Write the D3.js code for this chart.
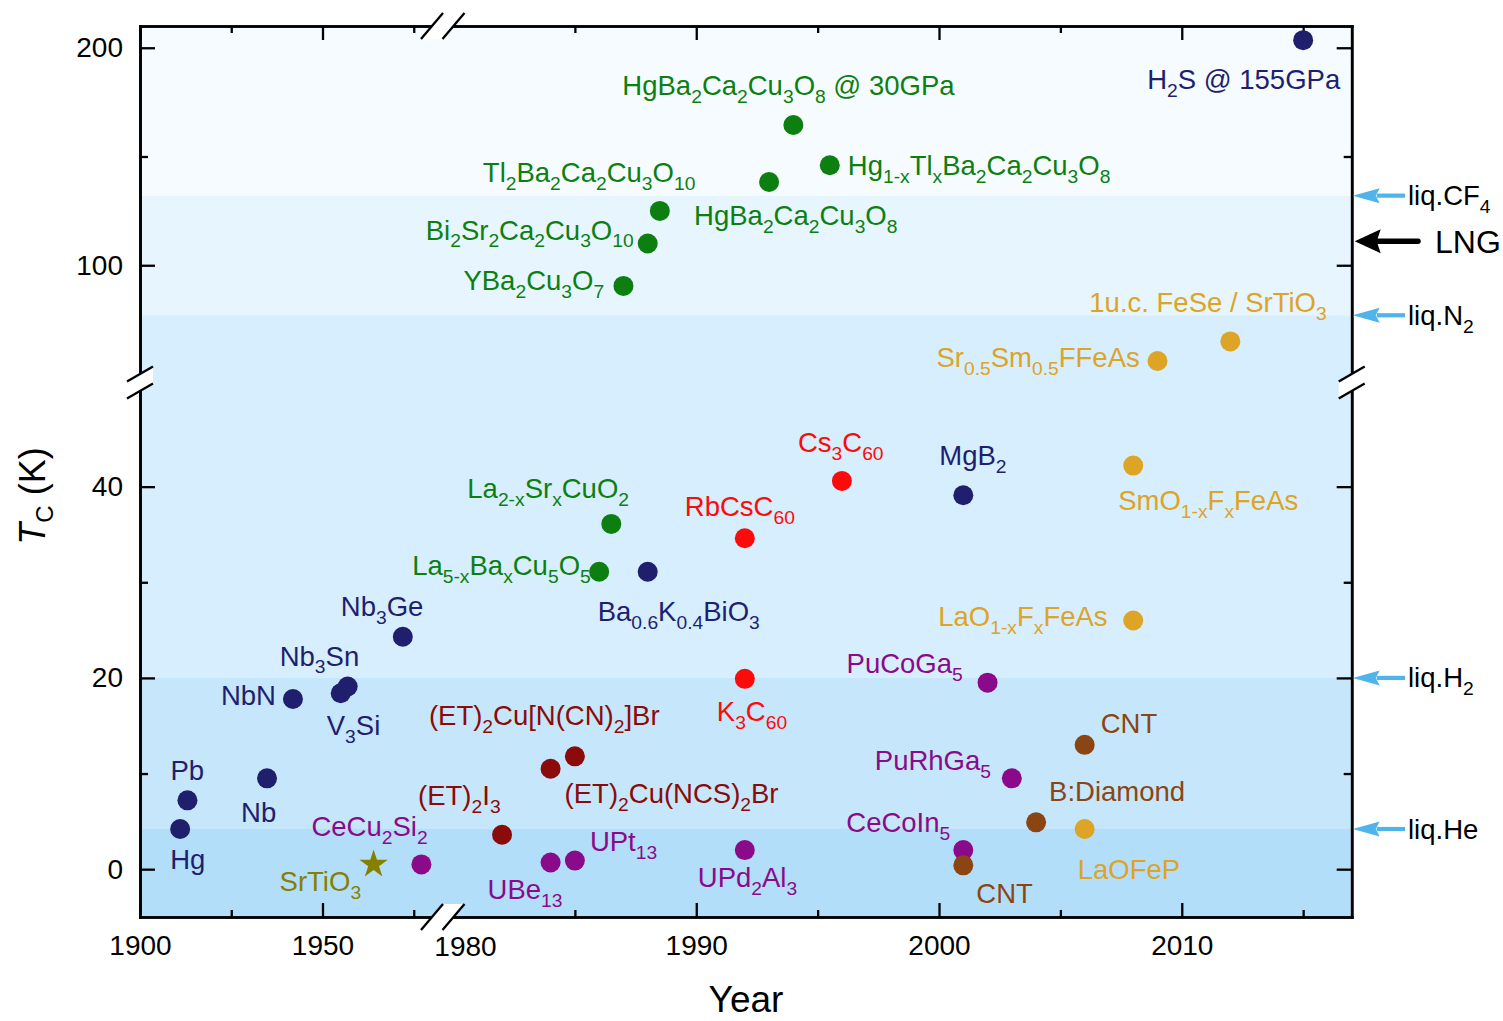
<!DOCTYPE html>
<html>
<head>
<meta charset="utf-8">
<script src="https://cdn.jsdelivr.net/npm/d3@7"></script>
<style>
  body { margin: 0; background: #fff; }
  svg { display: block; }
</style>
</head>
<body>
<svg id="chart" width="1503" height="1021"></svg>
<script>
// ---------- data ----------
const materials = [
  "Hg", "Pb", "Nb", "NbN", "V_{3}Si", "Nb_{3}Sn", "Nb_{3}Ge", "SrTiO_{3}", "CeCu_{2}Si_{2}",
  "UBe_{13}", "UPt_{13}", "UPd_{2}Al_{3}", "CeCoIn_{5}", "CNT", "(ET)_{2}I_{3}",
  "(ET)_{2}Cu(NCS)_{2}Br", "(ET)_{2}Cu[N(CN)_{2}]Br", "La_{5-x}Ba_{x}Cu_{5}O_{5}",
  "La_{2-x}Sr_{x}CuO_{2}", "Ba_{0.6}K_{0.4}BiO_{3}", "RbCsC_{60}", "K_{3}C_{60}", "Cs_{3}C_{60}",
  "MgB_{2}", "PuCoGa_{5}", "PuRhGa_{5}", "CNT", "B:Diamond", "LaOFeP", "LaO_{1-x}F_{x}FeAs",
  "SmO_{1-x}F_{x}FeAs", "Sr_{0.5}Sm_{0.5}FFeAs", "1u.c. FeSe / SrTiO_{3}", "H_{2}S @ 155GPa",
  "YBa_{2}Cu_{3}O_{7}", "Bi_{2}Sr_{2}Ca_{2}Cu_{3}O_{10}", "Tl_{2}Ba_{2}Ca_{2}Cu_{3}O_{10}",
  "HgBa_{2}Ca_{2}Cu_{3}O_{8}", "Hg_{1-x}Tl_{x}Ba_{2}Ca_{2}Cu_{3}O_{8}", "HgBa_{2}Ca_{2}Cu_{3}O_{8} @ 30GPa"
];
const years = [
  1911, 1913, 1934.8, 1941.9, 1955, 1956.9, 1972, 1964, 1977.1,
  1984, 1985, 1992, 2001, 2001, 1982,
  1984, 1985, 1986,
  1986.5, 1988, 1992, 1992, 1996,
  2001, 2002, 2003, 2006, 2004, 2006, 2008,
  2008, 2009, 2012, 2015,
  1987, 1988, 1988.5,
  1993, 1995.5, 1994
];
const tcKelvin = [
  4.2, 7.2, 9.5, 17.8, 18.4, 19.1, 24.3, 0.5, 0.5,
  0.7, 0.9, 2.0, 2.0, 0.4, 3.6,
  10.5, 11.8, 31.1,
  36.1, 31.1, 34.6, 19.9, 40.6,
  39.1, 19.5, 9.5, 13.0, 4.9, 4.2, 26.0,
  42.2, 56, 65, 203.5,
  90.5, 110, 125,
  138.3, 146, 164.5
];
const families = [
  "conventional", "conventional", "conventional", "conventional", "conventional", "conventional", "conventional", "oxide", "heavyFermion",
  "heavyFermion", "heavyFermion", "heavyFermion", "heavyFermion", "carbon", "organic",
  "organic", "organic", "cuprate",
  "cuprate", "conventional", "fulleride", "fulleride", "fulleride",
  "conventional", "heavyFermion", "heavyFermion", "carbon", "carbon", "iron", "iron",
  "iron", "iron", "iron", "conventional",
  "cuprate", "cuprate", "cuprate",
  "cuprate", "cuprate", "cuprate"
];

// coolant reference temperatures (K)
const coolantNames = ["liq.CF_{4}", "LNG", "liq.N_{2}", "liq.H_{2}", "liq.He"];
const coolantTemps = [132, 111, 77, 20, 4.2];

// temperature bands bounded by the coolant boiling points
const bandEdges = [-5, 4.2, 20, 77, 132, 210];

// axis ticks
const yMajorLow = [0, 20, 40], yMinorLow = [10, 30];
const yMajorHigh = [100, 200], yMinorHigh = [150];
const xMajorLow = [1900, 1950], xMinorLow = [1925, 1975];
const xMajorHigh = [1990, 2000, 2010], xMinorHigh = [1985, 1995, 2005, 2015];
const xBreakLabel = "1980";

// ---------- styling / layout ----------
const FONT = '"Liberation Sans", Arial, Helvetica, sans-serif';
const LABEL_SIZE = 27.5;
const TICK_SIZE = 28;
const familyColors = {
  conventional: "#1f1f6e", cuprate: "#0d7f10", fulleride: "#ff0a0a", organic: "#8b0a0a",
  heavyFermion: "#8a0a8a", carbon: "#8b4513", iron: "#dda426", oxide: "#858000"
};
const bandColors = ["#b2defa", "#c5e6fb", "#d6eefd", "#e6f5fe", "#f5fbfe"];
const coolantColor = "#4fb4ea";

// label placement relative to each point (px)
const labelOffsets = [
  [-10, 40], [-17, -20], [-26, 44], [-72, 6], [-14, 42], [-68, -21], [-62, -21], [-94, 27], [-110, -28],
  [-63, 37], [15, -10], [-47, 37], [-117, -18], [13, 38], [-84, -30],
  [14, 34], [-146, -31], [-187, 3],
  [-144, -26], [-50, 49], [-60, -22], [-28, 42], [-44, -29],
  [-24, -30], [-141, -10], [-137, -8], [16, -12], [13, -21], [-7, 50], [-195, 5],
  [-15, 44], [-221, 6], [-141, -29], [-156, 49],
  [-160, 4], [-222, -4], [-177, -29],
  [-75, 43], [18, 10], [-171, -30]
];

const plot = { left: 140, right: 1351.7, top: 26, bottom: 917 };

// broken x axis: 1900–1980 compressed, 1980–2017 expanded
const xLow = d3.scaleLinear().domain([1900, 1980]).range([plot.left, 432]);
const xHigh = d3.scaleLinear().domain([1980, 2017]).range([453.5, plot.right]);
const X = yr => (yr < 1980 ? xLow(yr) : xHigh(yr));

// broken y axis: -5–50 K and 50–210 K
const yLow = d3.scaleLinear().domain([-5, 50]).range([plot.bottom, 391]);
const yHigh = d3.scaleLinear().domain([50, 210]).range([374, plot.top]);
const Y = t => (t <= 50 ? yLow(t) : yHigh(t));

const svg = d3.select("#chart");

// writes "A_{b}C" style strings as text with subscript tspans
function richText(sel, str, size) {
  const parts = str.split(/(_\{[^}]*\})/).filter(s => s.length);
  const shift = size * 0.29;
  let lowered = false;
  parts.forEach(p => {
    const isSub = p.startsWith("_{");
    const t = sel.append("tspan").text(isSub ? p.slice(2, -1) : p);
    if (isSub) {
      t.attr("font-size", size * 0.7);
      if (!lowered) { t.attr("dy", shift); lowered = true; }
    } else if (lowered) {
      t.attr("dy", -shift);
      lowered = false;
    }
  });
}

// ---------- background bands ----------
svg.append("g").selectAll("rect")
  .data(bandColors)
  .join("rect")
  .attr("x", plot.left)
  .attr("width", plot.right - plot.left)
  .attr("y", (c, i) => Y(bandEdges[i + 1]))
  .attr("height", (c, i) => Y(bandEdges[i]) - Y(bandEdges[i + 1]))
  .attr("fill", c => c);

// ---------- axes ----------
function styleAxis(g, showText) {
  g.attr("font-family", FONT).attr("font-size", TICK_SIZE);
  g.select(".domain").attr("stroke-width", 2.6).attr("stroke-linecap", "square");
  g.selectAll(".tick line").attr("stroke-width", 2.3);
  g.selectAll(".tick text").attr("fill", "#000");
  if (!showText) g.selectAll(".tick text").remove();
}
function addAxis(axis, tx, ty, showText) {
  svg.append("g").attr("transform", `translate(${tx},${ty})`).call(axis).call(g => styleAxis(g, showText));
}

[[yLow, yMajorLow, yMinorLow], [yHigh, yMajorHigh, yMinorHigh]].forEach(([sc, major, minor]) => {
  addAxis(d3.axisLeft(sc).tickValues(major).tickSizeInner(-15).tickSizeOuter(0).tickPadding(17), plot.left, 0, true);
  addAxis(d3.axisLeft(sc).tickValues(minor).tickSizeInner(-8).tickSizeOuter(0).tickFormat(""), plot.left, 0, false);
  addAxis(d3.axisRight(sc).tickValues(major).tickSizeInner(-15).tickSizeOuter(0), plot.right, 0, false);
  addAxis(d3.axisRight(sc).tickValues(minor).tickSizeInner(-8).tickSizeOuter(0), plot.right, 0, false);
});

[[xLow, xMajorLow, xMinorLow], [xHigh, xMajorHigh, xMinorHigh]].forEach(([sc, major, minor]) => {
  addAxis(d3.axisBottom(sc).tickValues(major).tickSizeInner(-14).tickSizeOuter(0).tickPadding(18.5).tickFormat(d3.format("d")), 0, plot.bottom, true);
  addAxis(d3.axisBottom(sc).tickValues(minor).tickSizeInner(-7).tickSizeOuter(0), 0, plot.bottom, false);
  addAxis(d3.axisTop(sc).tickValues(major).tickSizeInner(-14).tickSizeOuter(0), 0, plot.top, false);
  addAxis(d3.axisTop(sc).tickValues(minor).tickSizeInner(-7).tickSizeOuter(0), 0, plot.top, false);
});

// the label at the start of the expanded segment
svg.append("text")
  .attr("x", xHigh(1980) + 12).attr("y", plot.bottom + 38.5)
  .attr("text-anchor", "middle").attr("font-family", FONT).attr("font-size", TICK_SIZE)
  .text(xBreakLabel);

// ---------- axis break marks ----------
const breaks = svg.append("g").attr("stroke", "#000").attr("stroke-width", 2.3);
function breakPair(ax, ay, bx, by, hx, hy) {
  // white gap between the two slashes
  svg.append("path")
    .attr("d", `M${ax - hx},${ay + hy}L${ax + hx},${ay - hy}L${bx + hx},${by - hy}L${bx - hx},${by + hy}Z`)
    .attr("fill", "#fff");
  [[ax, ay], [bx, by]].forEach(([cx, cy]) => {
    breaks.append("line")
      .attr("x1", cx - hx).attr("y1", cy + hy).attr("x2", cx + hx).attr("y2", cy - hy);
  });
}
[plot.left, plot.right].forEach(x => breakPair(x, yHigh(50), x, yLow(50), 13, 7.5));
[plot.bottom, plot.top].forEach(y => breakPair(xLow(1980), y, xHigh(1980), y, 11, 13));
breaks.raise();

// ---------- points ----------
const rows = materials.map((m, i) => ({
  name: m, year: years[i], tc: tcKelvin[i], family: families[i], off: labelOffsets[i]
}));

svg.append("g").selectAll("circle")
  .data(rows.filter(d => d.family !== "oxide"))
  .join("circle")
  .attr("cx", d => X(d.year))
  .attr("cy", d => Y(d.tc))
  .attr("r", 10)
  .attr("fill", d => familyColors[d.family]);

svg.append("g").selectAll("path")
  .data(rows.filter(d => d.family === "oxide"))
  .join("path")
  .attr("d", d3.symbol(d3.symbolStar, 250))
  .attr("transform", d => `translate(${X(d.year)},${Y(d.tc)})`)
  .attr("fill", d => familyColors[d.family]);

// ---------- point labels ----------
const labels = svg.append("g").attr("font-family", FONT).attr("font-size", LABEL_SIZE);
rows.forEach(d => {
  const t = labels.append("text")
    .attr("x", X(d.year) + d.off[0])
    .attr("y", Y(d.tc) + d.off[1])
    .attr("fill", familyColors[d.family]);
  richText(t, d.name, LABEL_SIZE);
});

// ---------- coolant markers on the right ----------
const cool = svg.append("g").attr("font-family", FONT);
coolantNames.forEach((name, i) => {
  const y = Y(coolantTemps[i]);
  const isLNG = name === "LNG";
  const col = isLNG ? "#000" : coolantColor;
  const tip = plot.right + (isLNG ? 3 : 1);
  const headLen = isLNG ? 26 : 27;
  const headHalf = isLNG ? 12 : 7.5;
  const tail = isLNG ? 1418 : 1405;
  cool.append("line")
    .attr("x1", tip + headLen - 3).attr("x2", tail).attr("y1", y).attr("y2", y)
    .attr("stroke", col).attr("stroke-width", isLNG ? 5.5 : 4.2).attr("stroke-linecap", isLNG ? "round" : "butt");
  cool.append("path")
    .attr("d", `M${tip},${y}L${tip + headLen},${y - headHalf}L${tip + headLen - 4},${y}L${tip + headLen},${y + headHalf}Z`)
    .attr("fill", col);
  const t = cool.append("text")
    .attr("x", isLNG ? 1435 : 1408)
    .attr("y", y + (isLNG ? 12 : 9.5))
    .attr("font-size", isLNG ? 32 : LABEL_SIZE)
    .attr("fill", "#000");
  richText(t, name, LABEL_SIZE);
});

// ---------- axis titles ----------
svg.append("text")
  .attr("x", 746).attr("y", 1012)
  .attr("text-anchor", "middle").attr("font-family", FONT).attr("font-size", 37)
  .text("Year");

const yTitle = svg.append("text")
  .attr("transform", "translate(45,496) rotate(-90)")
  .attr("text-anchor", "middle").attr("font-family", FONT).attr("font-size", 36);
yTitle.append("tspan").attr("font-style", "italic").text("T");
yTitle.append("tspan").attr("font-size", 24).attr("dy", 8).text("C");
yTitle.append("tspan").attr("dy", -8).text(" (K)");
</script>
</body>
</html>
